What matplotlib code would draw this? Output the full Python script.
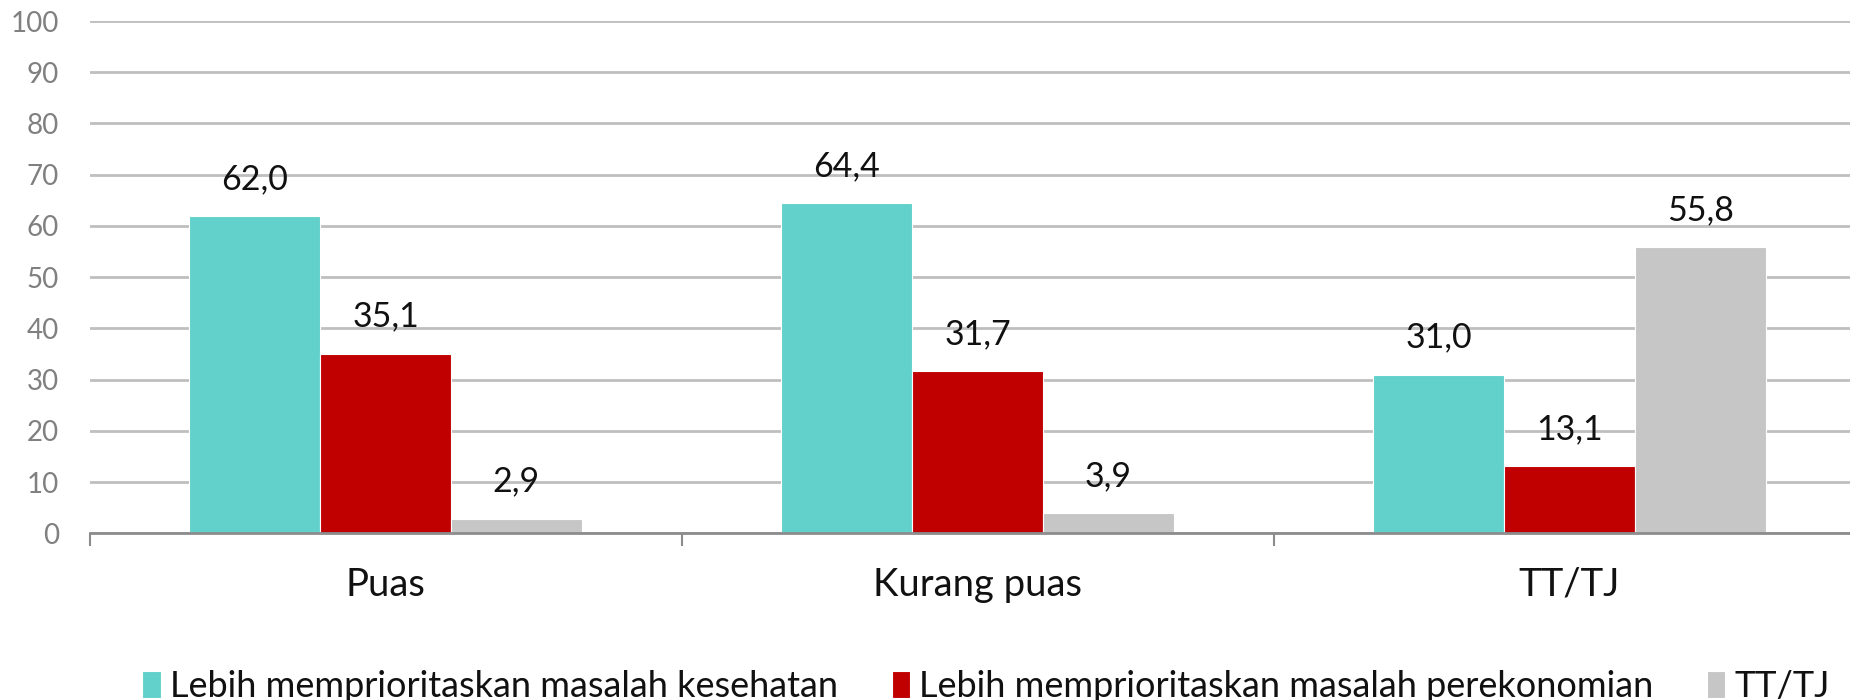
import numpy as np
import matplotlib
matplotlib.use('Agg')
from matplotlib import pyplot as plt

categories = ['Puas', 'Kurang puas', 'TT/TJ']
series_names = ['Lebih memprioritaskan masalah kesehatan',
                'Lebih memprioritaskan masalah perekonomian',
                'TT/TJ']
kesehatan = [62.0, 64.4, 31.0]
perekonomian = [35.1, 31.7, 13.1]
tttj = [2.9, 3.9, 55.8]
yticks = [0, 10, 20, 30, 40, 50, 60, 70, 80, 90, 100]

colors = ['#62D1CC', '#C00000', '#C6C6C6']

plt.rcParams['font.family'] = ['Lato', 'DejaVu Sans']

fig = plt.figure(figsize=(18.5, 7), dpi=100)
ax = fig.add_axes([0.0484, 0.238, 0.96, 0.732])

x = np.arange(len(categories))
w = 0.221
values = [kesehatan, perekonomian, tttj]
for j, vals in enumerate(values):
    rects = ax.bar(x + (j - 1) * w, vals, width=w, color=colors[j],
                   edgecolor='white', linewidth=0.8, label=series_names[j], zorder=3)
    for rect, v in zip(rects, vals):
        ax.annotate(('%.1f' % v).replace('.', ','),
                    (rect.get_x() + rect.get_width() / 2., v),
                    xytext=(0, 15), textcoords='offset points',
                    ha='center', va='bottom', fontsize=24.5, color='#111111')

ax.set_xlim(-0.5, 2.5)
ax.set_ylim(0, 100)
ax.set_yticks(yticks)
ax.set_yticklabels([str(t) for t in yticks], fontsize=20, color='#808080')
ax.yaxis.grid(True, color='#BFBFBF', linewidth=2, zorder=0)
ax.set_axisbelow(True)
ax.tick_params(axis='y', length=0, pad=22)

ax.set_xticks(x)
ax.set_xticklabels(categories, fontsize=27.5, color='#111111')
ax.set_xticks([-0.5, 0.5, 1.5, 2.5], minor=True)
ax.tick_params(axis='x', which='major', length=0, pad=24)
ax.tick_params(axis='x', which='minor', length=9, width=1.5, color='#8C8C8C')

for s in ['top', 'right', 'left']:
    ax.spines[s].set_visible(False)
ax.spines['bottom'].set_color('#8C8C8C')
ax.spines['bottom'].set_linewidth(2)
ax.spines['bottom'].set_zorder(4)

leg = fig.legend(loc='center', bbox_to_anchor=(0.533, 0.019), ncol=3, frameon=False,
                 fontsize=26, handlelength=0.5, handleheight=0.8, handletextpad=0.25,
                 columnspacing=1.5, labelcolor='#111111')

fig.savefig('out.png', dpi=100)
